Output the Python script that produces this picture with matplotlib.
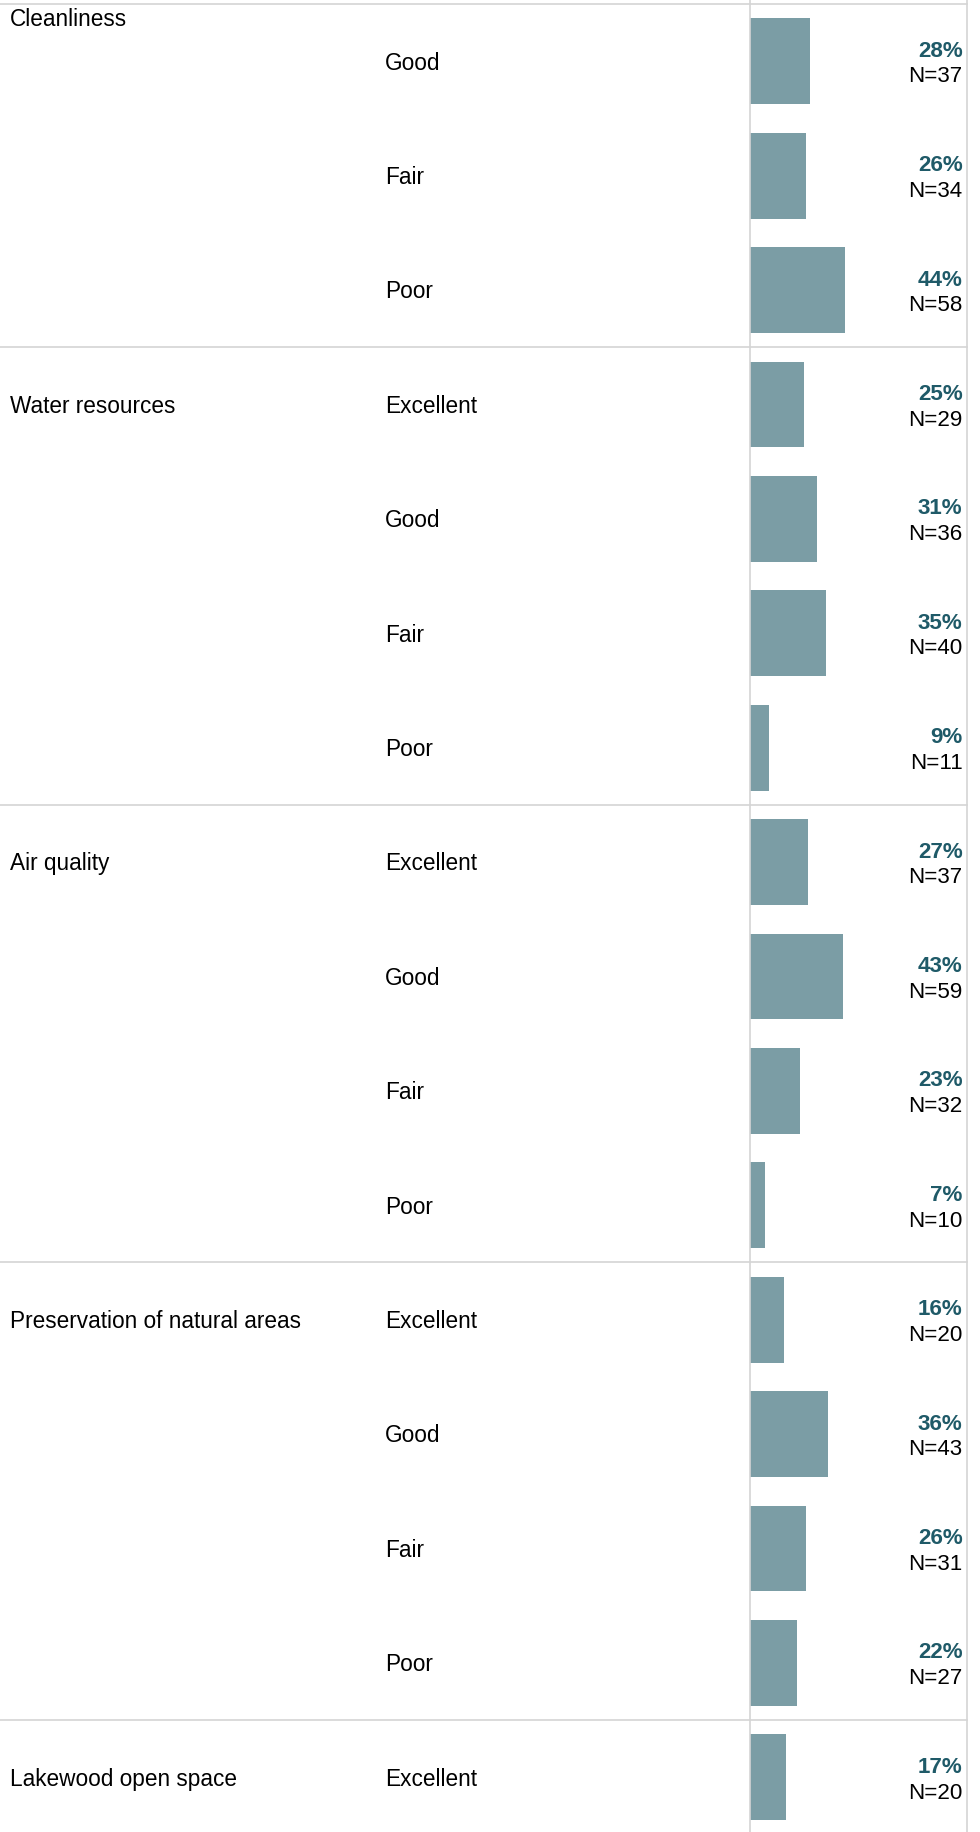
import matplotlib
matplotlib.use("Agg")
import matplotlib.pyplot as plt
from matplotlib.transforms import blended_transform_factory
from matplotlib.lines import Line2D

# ---- data ----
groups = ["Cleanliness", "Water resources", "Air quality",
          "Preservation of natural areas", "Lakewood open space"]
ratings = [
    ["Good", "Fair", "Poor"],
    ["Excellent", "Good", "Fair", "Poor"],
    ["Excellent", "Good", "Fair", "Poor"],
    ["Excellent", "Good", "Fair", "Poor"],
    ["Excellent"],
]
percents = [
    [28, 26, 44],
    [25, 31, 35, 9],
    [27, 43, 23, 7],
    [16, 36, 26, 22],
    [17],
]
counts = [
    [37, 34, 58],
    [29, 36, 40, 11],
    [37, 59, 32, 10],
    [20, 43, 31, 27],
    [20],
]

# ---- style ----
BAR = "#7b9da5"
PCT = "#1f5a68"
GRID = "#d4d4d4"
FONT = ["Liberation Sans", "DejaVu Sans"]
plt.rcParams["font.family"] = FONT
FS = 16.3
FS_R = 16.1

W, H = 980, 1832
fig = plt.figure(figsize=(W / 100, H / 100), dpi=100)
fig.patch.set_facecolor("white")

x0, x1 = 749.5, 967
top_px = 4
pitch = 114.4
ax = fig.add_axes([x0 / W, 0, (x1 - x0) / W, 1])
ax.set_xlim(0, 100)
ax.set_ylim((H - top_px) / pitch, -top_px / pitch)
ax.axis("off")

tr = blended_transform_factory(fig.transFigure, ax.transData)
px = 1.0 / pitch  # one pixel in row units

row = 0
for gi, g in enumerate(groups):
    start = row
    for r, p, n in zip(ratings[gi], percents[gi], counts[gi]):
        yc = row + 0.5
        ax.barh(yc, p, height=0.75, color=BAR, left=0, linewidth=0)
        fig.text(385 / W, yc + 8.3 * px, r, transform=tr, fontsize=FS,
                 va="baseline", ha="left", color="black")
        fig.text(962.5 / W, yc - 4.4 * px, f"{p}%", transform=tr,
                 fontsize=FS_R, fontweight="bold", va="baseline", ha="right",
                 color=PCT)
        fig.text(962.5 / W, yc + 21.3 * px, f"N={n}", transform=tr,
                 fontsize=FS_R, va="baseline", ha="right", color="black")
        row += 1
    gy = (26.5 - top_px) * px if gi == 0 else start + 0.5 + 8.3 * px
    fig.text(9.5 / W, gy, g, transform=tr, fontsize=FS, va="baseline",
             ha="left", color="black")
    # separator below group
    fig.add_artist(Line2D([0, x1 / W], [row, row], transform=tr,
                          color=GRID, lw=1.2))

# top line
fig.add_artist(Line2D([0, x1 / W], [0, 0], transform=tr, color=GRID, lw=1.2))
# vertical lines
for xp in (x0, x1):
    fig.add_artist(Line2D([xp / W, xp / W], [0, 1], transform=fig.transFigure,
                          color=GRID, lw=1.2))

fig.savefig("out.png", dpi=100, facecolor="white")
